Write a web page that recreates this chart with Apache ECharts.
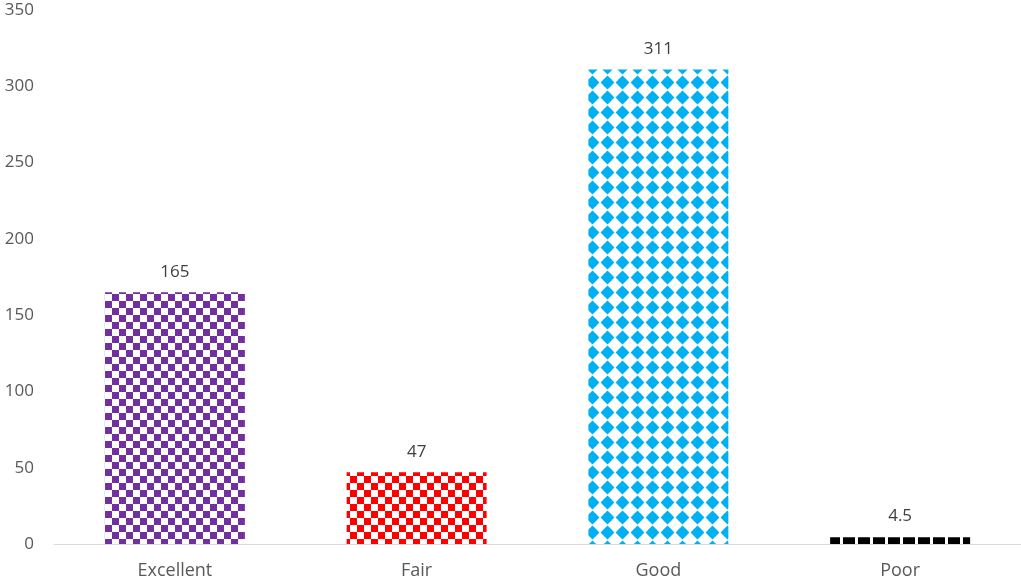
<!DOCTYPE html>
<html>
<head>
<meta charset="utf-8">
<script src="https://cdn.jsdelivr.net/npm/echarts@6/dist/echarts.min.js"></script>
<style>
  html, body { margin: 0; padding: 0; background: #fff; }
  #Mycharts { width: 1021px; height: 582px; }
</style>
</head>
<body>
<div id="Mycharts"></div>
<script>
// chart data
const categories = ['Excellent', 'Fair', 'Good', 'Poor'];
const values = [165, 47, 311, 4.5];
const yTicks = [0, 50, 100, 150, 200, 250, 300, 350];

// pattern fills, like the office chart
function checker (color, size) {
  const c = document.createElement('canvas');
  c.width = size * 2;
  c.height = size * 2;
  const ctx = c.getContext('2d');
  ctx.fillStyle = '#fff';
  ctx.fillRect(0, 0, c.width, c.height);
  ctx.fillStyle = color;
  ctx.fillRect(0, 0, size, size);
  ctx.fillRect(size, size, size, size);
  return { image: c, repeat: 'repeat' };
}
function diamonds (color, size) {
  const c = document.createElement('canvas');
  c.width = size;
  c.height = size;
  const ctx = c.getContext('2d');
  ctx.fillStyle = '#fff';
  ctx.fillRect(0, 0, size, size);
  ctx.fillStyle = color;
  const h = size / 2;
  const r = size * 0.46;
  ctx.beginPath();
  ctx.moveTo(h, h - r);
  ctx.lineTo(h + r, h);
  ctx.lineTo(h, h + r);
  ctx.lineTo(h - r, h);
  ctx.closePath();
  ctx.fill();
  ctx.beginPath();
  ctx.arc(h, h, size * 0.32, 0, Math.PI * 2);
  ctx.fill();
  return { image: c, repeat: 'repeat' };
}
// black blocks split by thin white gaps
function blocks (color, size) {
  const c = document.createElement('canvas');
  c.width = size;
  c.height = 1;
  const ctx = c.getContext('2d');
  ctx.fillStyle = '#fff';
  ctx.fillRect(0, 0, size, 1);
  ctx.fillStyle = color;
  ctx.fillRect(3, 0, size - 3, 1);
  return { image: c, repeat: 'repeat' };
}

const fills = [
  checker('#7030A0', 7),
  checker('#FF0000', 7),
  diamonds('#00B0F0', 15),
  blocks('#000000', 15)
];

const textColor = '#595959';
const fontFamily = '"Open Sans", "Liberation Sans", sans-serif';

let Mycharts = echarts.init(document.getElementById('Mycharts'));
Mycharts.setOption({
  animation: false,
  grid: { left: 54, right: 0, top: 10, bottom: 38 },
  xAxis: {
    type: 'category',
    data: categories,
    axisTick: { show: false },
    axisLine: { lineStyle: { color: '#d9d9d9', width: 1 } },
    axisLabel: { color: textColor, fontSize: 18, fontFamily: fontFamily, margin: 18 }
  },
  yAxis: {
    type: 'value',
    min: yTicks[0],
    max: yTicks[yTicks.length - 1],
    interval: 50,
    splitLine: { show: false },
    axisLine: { show: false },
    axisTick: { show: false },
    axisLabel: { color: textColor, fontSize: 17, fontFamily: fontFamily, margin: 20 }
  },
  series: [
    {
      type: 'bar',
      barWidth: 140,
      label: {
        show: true,
        position: 'top',
        distance: 12,
        color: '#404040',
        fontSize: 17,
        fontFamily: fontFamily
      },
      data: values.map((v, i) => ({ value: v, itemStyle: { color: fills[i] } }))
    }
  ]
});
</script>
</body>
</html>
